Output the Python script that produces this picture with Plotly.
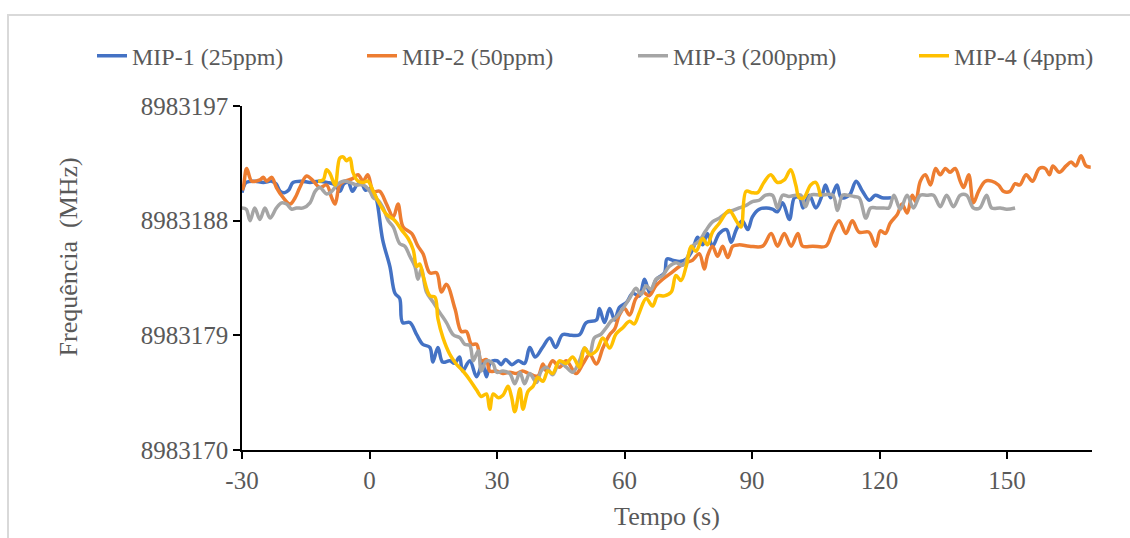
import plotly.graph_objects as go

# ---------------- data ----------------
mip1_x = [-30, -29, -27, -25, -23, -22, -21, -20, -19, -18, -16, -14, -12, -10, -8, -7, -6, -5, -4, -3, -2, -1, 0, 1,
          1.7, 3.1, 4.8, 6.0, 7.1, 7.8, 9.5, 11.1, 12.5, 14.2, 14.9, 16.1, 17.2, 18.9, 20, 21.2, 21.9, 23.6, 25.2,
          26.6, 27.5, 28.5, 30, 31, 32, 33.5, 35, 36.5, 37.7, 39, 40.7, 42.4, 43.8, 45.4, 47.5, 49.4, 51, 53.4, 54.1,
          55.3, 56.5, 57.7, 58.8, 60.5, 61.9, 63.5, 64.7, 66, 67.5, 69.4, 70, 71.3, 73, 74.6, 76, 77.2, 78.4, 79.5,
          80.7, 82.3, 84, 85.1, 86.3, 87.7, 89, 90.1, 91.7, 93.4, 94.8, 96, 97.2, 98.8, 100, 101.2, 102, 103.5, 105,
          106.5, 107.3, 108.5, 110, 111, 112.9, 114.5, 116, 117.6, 119, 120.6, 122.7]
mip1_y = [8983190.2, 8983191.0, 8983191.1, 8983191.0, 8983191.1, 8983190.9, 8983190.3, 8983190.2, 8983190.4,
          8983191.0, 8983191.1, 8983191.0, 8983191.1, 8983191.0, 8983190.8, 8983190.3, 8983190.9, 8983191.0,
          8983190.3, 8983190.8, 8983191.0, 8983190.4, 8983190.5, 8983190.2,
          8983189.6, 8983186.5, 8983184.4, 8983182.3, 8983181.9, 8983180.0, 8983180.0, 8983179.05, 8983178.3,
          8983178.05, 8983176.9, 8983178.05, 8983176.9, 8983177.0, 8983176.8, 8983177.3, 8983176.2, 8983177.0,
          8983175.75, 8983176.8, 8983175.75, 8983176.9, 8983177.0, 8983176.7, 8983177.1, 8983176.7, 8983177.0,
          8983176.8, 8983178.05, 8983177.3, 8983178.05, 8983178.8, 8983178.05, 8983179.05, 8983179.0, 8983179.05,
          8983180.0, 8983180.2, 8983181.1, 8983180.0, 8983181.1, 8983180.2, 8983181.2, 8983181.6, 8983182.3,
          8983182.1, 8983183.4, 8983182.3, 8983183.4, 8983183.9, 8983185.0, 8983184.9, 8983184.8, 8983185.0,
          8983185.7, 8983186.7, 8983186.1, 8983187.0, 8983186.0, 8983187.0, 8983187.3, 8983186.3, 8983187.3,
          8983188.0, 8983187.3, 8983188.3, 8983188.9, 8983189.0, 8983188.9, 8983188.7, 8983189.4, 8983188.1,
          8983189.8, 8983189.8, 8983189.0, 8983190.0, 8983189.0, 8983190.0, 8983190.8, 8983189.8, 8983190.8,
          8983189.8, 8983190.0, 8983191.1, 8983190.3, 8983189.6, 8983190.0, 8983189.8, 8983189.8]

mip2_x = [-30, -29.7, -28.9, -27.7, -25.8, -25.0, -24.2, -23.0, -21.9, -20.3, -18.7, -17.5, -16.4, -14.8, -13.2,
          -11.7, -10.1, -8.9, -8.1, -7.0, -5.8, -4, -2.7, -1.5, -0.4, 0.9, 2.4, 4.0, 5.6, 6.7, 7.9, 9.9, 11.4, 12.6,
          14.2, 15.8, 16.9, 18.1, 20.1, 21.6, 22.8, 24.0, 25.2, 26.3, 27.5, 28.3, 29.9, 31.4, 33, 34.6, 36, 37.5,
          39.6, 40.8, 41.6, 43.1, 44.7, 46.3, 48.6, 50.2, 51.8, 53.4, 54.9, 56.5, 57.7, 58.8, 60.0, 61.2, 62.7,
          64.3, 65.8, 67.4, 69.0, 71.0, 72.9, 74.5, 76.0, 77.6, 78.8, 79.5, 80.7, 81.9, 83.1, 84.3, 85.5, 87.0,
          89.4, 92.5, 94.5, 96.0, 97.6, 99.2, 100.8, 101.9, 104.3, 107.4, 108.9, 110.5, 112.1, 113.6, 115.2,
          117.5, 119.1, 120.2, 121.4, 122.5, 124.2, 125.3, 126.5, 127.7, 128.5, 129.6, 130.8, 132.0, 133.2,
          134.3, 135.5, 136.6, 137.8, 139.0, 139.8, 141.0, 142.1, 143.3, 144.9, 146.4, 148.0, 149.2, 150.7,
          151.9, 153, 154.5, 156.0, 157.6, 159, 160.0, 160.8, 162.3, 163.9, 165.1, 166.2, 167.4, 168.6, 169.7]
mip2_y = [8983190.4, 8983190.6, 8983192.1, 8983191.1, 8983191.2, 8983191.4, 8983191.1, 8983191.4, 8983190.6,
          8983189.8, 8983189.3, 8983189.8, 8983190.6, 8983191.5, 8983191.1, 8983190.6, 8983190.8, 8983189.8,
          8983189.3, 8983190.8, 8983191.1, 8983191.3, 8983191.6, 8983191.1, 8983191.6, 8983190.3, 8983190.3,
          8983189.3, 8983188.3, 8983189.3, 8983187.5, 8983187.0, 8983186.0, 8983185.4, 8983183.9, 8983183.9,
          8983182.4, 8983183.0, 8983181.1, 8983179.3, 8983179.3, 8983178.3, 8983178.3, 8983177.0, 8983177.1,
          8983176.2, 8983176.2, 8983176.0, 8983176.1, 8983176.0, 8983176.2, 8983176.0, 8983175.8, 8983176.75,
          8983176.2, 8983177.0, 8983176.5, 8983177.0, 8983176.0, 8983176.75, 8983177.5, 8983176.75, 8983178.0,
          8983179.05, 8983179.5, 8983180.6, 8983181.1, 8983180.6, 8983181.9, 8983182.4, 8983182.1, 8983182.9,
          8983183.4, 8983183.9, 8983184.4, 8983184.7, 8983184.9, 8983185.4, 8983184.2, 8983185.2, 8983186.0,
          8983185.2, 8983186.0, 8983185.1, 8983186.0, 8983186.1, 8983186.0, 8983186.0, 8983187.0, 8983186.0,
          8983187.0, 8983186.0, 8983187.0, 8983186.0, 8983186.0, 8983186.0, 8983187.1, 8983188.0, 8983187.0,
          8983188.0, 8983187.1, 8983187.1, 8983186.0, 8983187.2, 8983187.0, 8983187.8, 8983188.5, 8983189.3,
          8983188.6, 8983190.0, 8983189.5, 8983191.1, 8983191.6, 8983190.8, 8983192.1, 8983191.6, 8983192.1,
          8983191.8, 8983192.1, 8983191.1, 8983190.6, 8983191.6, 8983189.4, 8983190.3, 8983191.1, 8983191.1,
          8983190.8, 8983190.3, 8983190.3, 8983190.9, 8983190.8, 8983191.6, 8983191.1, 8983192.1, 8983192.1,
          8983191.6, 8983192.3, 8983191.8, 8983192.3, 8983192.6, 8983192.3, 8983193.1, 8983192.3, 8983192.2]

mip3_x = [-30, -29, -28.1, -27, -25.8, -24.6, -23.4, -21.9, -20.7, -19.5, -18.3, -17.2, -15.6, -14.0, -12.8,
          -11.7, -10.1, -8.9, -7.7, -6.2, -4.6, -3.1, -1.5, 0.1, 0.9, 2, 3.2, 4.4, 5.6, 7.1, 8.3, 9.5, 10.7, 11.4,
          12.2, 13.4, 15.0, 16.5, 18.1, 19.7, 21.3, 22.4, 23.6, 24.4, 25.6, 26.3, 27.5, 29.1, 29.9, 31.4, 33.0,
          34.2, 35.4, 36.5, 37.7, 39.3, 40.4, 41.6, 43.1, 44.7, 46.3, 47.8, 49.4, 50.6, 51.8, 52.9, 54.5, 55.7,
          56.8, 58.0, 59.6, 61.2, 62.7, 63.9, 65.1, 66.2, 67.4, 69.0, 70.5, 72.1, 73.7, 74.9, 76.0, 77.6, 79.1,
          80.7, 82.3, 83.9, 85.5, 87.0, 88.6, 90.1, 91.7, 93.2, 94.8, 96.0, 97.2, 98.7, 100.3, 101.5, 102.6,
          103.8, 106.1, 109.0, 110.1, 111.3, 112.5, 114.0, 115.2, 116.8, 117.9, 119.5, 121, 122.2, 123.4, 124.9,
          126.5, 128.0, 129.6, 131.2, 132.7, 134.3, 135.8, 137.4, 139.0, 140.5, 142.1, 143.6, 145.2, 146.4,
          148.4, 149.9, 151.9]
mip3_y = [8983189.0, 8983188.9, 8983188.0, 8983189.0, 8983188.1, 8983189.0, 8983188.2, 8983189.0, 8983189.4,
          8983189.3, 8983188.9, 8983189.0, 8983189.0, 8983189.4, 8983190.3, 8983190.6, 8983190.1, 8983190.3,
          8983190.8, 8983191.1, 8983191.0, 8983190.8, 8983190.8, 8983190.3, 8983189.8, 8983189.6, 8983189.0,
          8983188.0, 8983187.5, 8983186.2, 8983186.0, 8983185.2, 8983184.4, 8983183.4, 8983184.2, 8983182.4,
          8983181.6, 8983180.8, 8983180.0, 8983179.05, 8983178.8, 8983178.3, 8983178.2, 8983177.0, 8983177.8,
          8983176.2, 8983177.0, 8983176.75, 8983176.1, 8983176.2, 8983176.0, 8983175.2, 8983176.1, 8983175.2,
          8983176.0, 8983175.3, 8983176.2, 8983176.5, 8983175.9, 8983176.9, 8983176.5, 8983176.1, 8983177.0,
          8983178.0, 8983177.5, 8983178.8, 8983179.1, 8983179.6, 8983180.1, 8983180.4, 8983181.1, 8983181.9,
          8983182.7, 8983182.2, 8983182.9, 8983182.6, 8983183.4, 8983183.7, 8983184.4, 8983184.7, 8983184.5,
          8983185.2, 8983186.0, 8983186.4, 8983187.2, 8983187.9, 8983188.2, 8983188.6, 8983188.8, 8983189.0,
          8983189.2, 8983189.5, 8983189.6, 8983190.0, 8983190.0, 8983189.0, 8983190.0, 8983189.9, 8983190.0,
          8983190.0, 8983189.1, 8983190.0, 8983190.0, 8983190.0, 8983188.8, 8983190.0, 8983190.0, 8983189.9,
          8983189.8, 8983188.2, 8983189.0, 8983189.0, 8983189.0, 8983189.0, 8983190.0, 8983188.9, 8983190.0,
          8983189.0, 8983190.0, 8983190.0, 8983190.0, 8983189.1, 8983190.0, 8983189.1, 8983190.0, 8983190.0,
          8983189.0, 8983189.0, 8983190.0, 8983189.0, 8983189.0, 8983188.9, 8983189.0]

mip4_x = [-12.1, -10.9, -10.1, -9.3, -8.1, -7.0, -6.2, -5.4, -4.6, -3.9, -2.7, -1.5, -0.4, 0.9, 2.4, 4.0, 6.0,
          7.5, 9.1, 10.3, 11.1, 11.8, 12.6, 14.2, 15.4, 16.1, 17.3, 18.9, 20.4, 22.0, 23.6, 25.2, 26.3, 27.5,
          28.3, 29.1, 30.3, 31.4, 32.6, 33.4, 34.2, 35.4, 36.1, 37.3, 38.5, 39.6, 40.8, 42.0, 43.1, 44.7, 46.3,
          47.8, 49.4, 50.6, 51.8, 53.4, 54.9, 56.5, 58.0, 59.6, 61.2, 62.3, 63.5, 65.1, 66.6, 67.8, 69.4, 71.0,
          72.1, 73.3, 74.5, 75.7, 76.8, 78.4, 79.5, 80.7, 82.3, 83.9, 84.7, 86.3, 87.4, 88.6, 90, 91.3, 92.8,
          94.4, 96.0, 97.6, 99.1, 100.3, 101.1, 102.2, 103.8, 105.0, 106.1]
mip4_y = [8983191.1, 8983191.2, 8983192.0, 8983191.7, 8983190.8, 8983192.9, 8983193.0, 8983192.7, 8983192.9,
          8983191.8, 8983191.1, 8983191.0, 8983191.1, 8983190.3, 8983189.3, 8983188.5, 8983188.0, 8983187.3,
          8983186.6, 8983185.7, 8983184.4, 8983184.6, 8983183.7, 8983182.1, 8983182.0, 8983180.3, 8983178.8,
          8983177.5, 8983176.75, 8983176.2, 8983175.5, 8983174.7, 8983174.2, 8983174.4, 8983173.2, 8983174.4,
          8983174.1, 8983174.3, 8983175.0, 8983174.2, 8983173.0, 8983174.8, 8983173.2, 8983174.6, 8983175.0,
          8983175.7, 8983175.4, 8983176.2, 8983176.0, 8983177.0, 8983176.8, 8983177.3, 8983176.5, 8983178.0,
          8983177.5, 8983177.8, 8983178.8, 8983178.0, 8983179.1, 8983179.6, 8983180.1, 8983179.9, 8983180.8,
          8983181.9, 8983181.3, 8983182.1, 8983182.1, 8983182.4, 8983183.7, 8983183.3, 8983184.4, 8983186.0,
          8983185.6, 8983186.6, 8983186.1, 8983187.1, 8983187.8, 8983188.6, 8983188.8, 8983188.0, 8983187.5,
          8983190.3, 8983190.2, 8983190.2, 8983191.0, 8983191.6, 8983191.0, 8983191.2, 8983192.0, 8983190.8,
          8983189.8, 8983189.8, 8983190.8, 8983191.0, 8983189.9]

names = ["MIP-1 (25ppm)", "MIP-2 (50ppm)", "MIP-3 (200ppm)", "MIP-4 (4ppm)"]
colors = ["#4472C4", "#ED7D31", "#A5A5A5", "#FFC000"]

x_ticks = [-30, 0, 30, 60, 90, 120, 150]
y_ticks = [8983170, 8983179, 8983188, 8983197]

# ---------------- figure ----------------
W, H = 1130, 538
L, R, T, B = 242, 38, 106, 80
pw, ph = W - L - R, H - T - B

FONT = "Liberation Serif"
TXT = "#595959"


def px_to_paper_x(px):
    return (px - L) / pw


def py_to_paper_y(py):
    return (H - B - py) / ph


legend_ids = ["legend", "legend2", "legend3", "legend4"]
legend_text_left = [133, 403, 674, 955]

fig = go.Figure()
for xs, ys, nm, c, lid in zip([mip1_x, mip2_x, mip3_x, mip4_x], [mip1_y, mip2_y, mip3_y, mip4_y],
                              names, colors, legend_ids):
    fig.add_trace(go.Scatter(x=xs, y=ys, name=nm, mode="lines", legend=lid,
                             line=dict(color=c, width=3.5, shape="spline", smoothing=1.0)))

legend_common = dict(orientation="h", xanchor="left", yanchor="middle",
                     font=dict(family=FONT, size=24, color=TXT),
                     bgcolor="rgba(0,0,0,0)", borderwidth=0)

layout_legends = {}
for lid, tx in zip(legend_ids, legend_text_left):
    layout_legends[lid] = dict(legend_common, x=px_to_paper_x(tx - 41), y=py_to_paper_y(55))

fig.update_layout(
    width=W, height=H,
    margin=dict(l=L, r=R, t=T, b=B),
    paper_bgcolor="white", plot_bgcolor="white",
    font=dict(family=FONT, size=25, color=TXT),
    showlegend=True,
    xaxis=dict(range=[-30, 170], tickmode="array", tickvals=x_ticks,
               ticktext=[str(v) for v in x_ticks],
               showgrid=False, zeroline=False, showline=True, linecolor="black", linewidth=1.5,
               ticks="outside", ticklen=7, tickcolor="black", tickwidth=1.5,
               tickfont=dict(family=FONT, size=25, color=TXT),
               title=dict(text="Tempo (s)", font=dict(family=FONT, size=26, color=TXT), standoff=14)),
    yaxis=dict(range=[8983170, 8983197], tickmode="array", tickvals=y_ticks,
               ticktext=[str(v) for v in y_ticks],
               showgrid=False, zeroline=False, showline=True, linecolor="black", linewidth=1.5,
               ticks="outside", ticklen=7, tickcolor="black", tickwidth=1.5,
               tickfont=dict(family=FONT, size=25, color=TXT)),
    annotations=[dict(text="Frequência  (MHz)", textangle=-90, showarrow=False,
                      xref="paper", yref="paper", x=px_to_paper_x(68), y=py_to_paper_y(261),
                      xanchor="center", yanchor="middle",
                      font=dict(family=FONT, size=26, color=TXT))],
    shapes=[dict(type="rect", xref="paper", yref="paper",
                 x0=px_to_paper_x(8), x1=px_to_paper_x(1140),
                 y0=py_to_paper_y(560), y1=py_to_paper_y(13),
                 line=dict(color="#D9D9D9", width=2), fillcolor="rgba(0,0,0,0)", layer="below")],
    **layout_legends,
)

fig.write_html("out.html")
